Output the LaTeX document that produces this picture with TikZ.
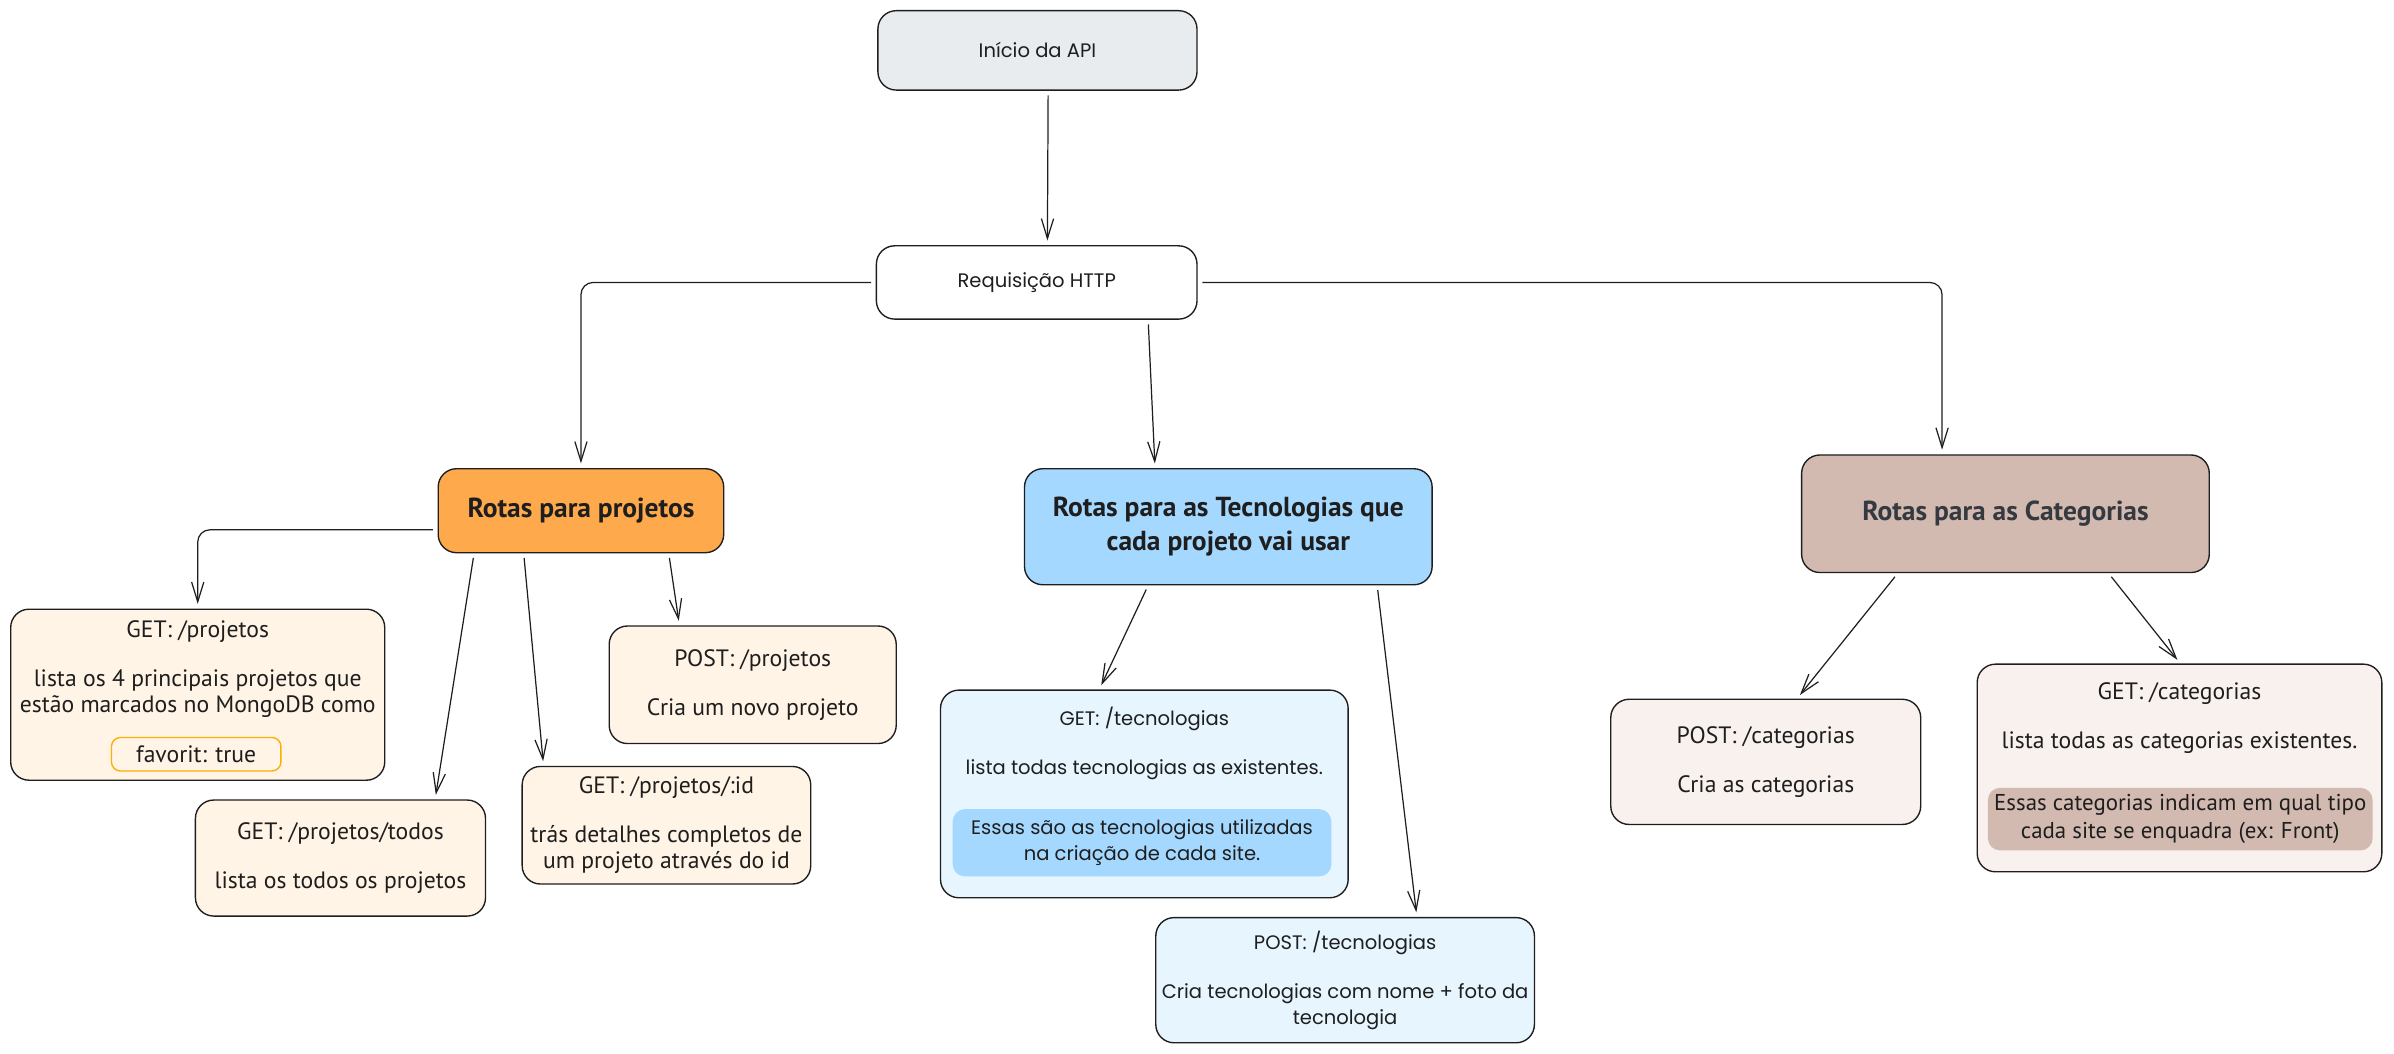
\documentclass[tikz,border=0pt]{standalone}
\usepackage{fontspec}
\setmainfont{PT Sans}
\newfontfamily\fontetec{Poppins}
\usetikzlibrary{arrows.meta,positioning}

\definecolor{tinta}{HTML}{1E1E1E}
\definecolor{cinzaclaro}{HTML}{E9ECEF}
\definecolor{laranja}{HTML}{FFA94D}
\definecolor{laranjaclaro}{HTML}{FFF4E6}
\definecolor{amarelo}{HTML}{FAB005}
\definecolor{azul}{HTML}{A5D8FF}
\definecolor{azulclaro}{HTML}{E7F5FF}
\definecolor{marrom}{HTML}{D2BAB0}
\definecolor{marromclaro}{HTML}{F8F1EE}
\definecolor{ardosia}{HTML}{343A40}

\tikzset{
  caixa/.style={draw=tinta, line width=0.9pt, rounded corners=12pt, align=center, inner sep=0pt, text=tinta, font=\fontsize{15.5}{17}\selectfont},
  caixatec/.style={caixa, font=\fontetec\fontsize{12.8}{17}\selectfont},
  titulo/.style={caixa, font=\fontsize{18}{22}\selectfont\bfseries},
  texto/.style={align=center, inner sep=0pt, text=tinta, font=\fontsize{15.5}{17}\selectfont},
  textotec/.style={texto, font=\fontetec\fontsize{12.8}{17}\selectfont},
  destaque/.style={draw=none, rounded corners=8pt, align=center, inner sep=0pt, text=tinta},
  seta/.style={draw=tinta, line width=0.8pt, -{Straight Barb[length=13pt,width=8pt]}, shorten <=3pt, shorten >=3pt}
}

\begin{document}
\begin{tikzpicture}[x=1pt, y=-1pt]
\useasboundingbox (0,0) rectangle (1568,690);

\node[caixatec, fill=cinzaclaro, minimum width=209pt, minimum height=52pt] (inicio) at (679.5,33) {Início da API};
\node[caixatec, fill=white, minimum width=210pt, minimum height=48pt] (req) at (679,185) {Requisição HTTP};

\node[titulo, fill=laranja, minimum width=187pt, minimum height=55pt] (rprojetos) at (380.5,334.5) {Rotas para projetos};
\node[titulo, fill=azul, minimum width=267pt, minimum height=76pt] (rtecno) at (804.5,345) {Rotas para as Tecnologias que\\cada projeto vai usar};
\node[titulo, fill=marrom, text=ardosia, minimum width=267pt, minimum height=77pt] (rcateg) at (1313.5,336.5) {Rotas para as Categorias};

\node[caixa, fill=laranjaclaro, minimum width=245pt, minimum height=112pt] (getproj) at (129.5,455) {};
\node[texto] (getprojtxt) at (129.5,438) {GET: /projetos\\[15pt]lista os 4 principais projetos que\\estão marcados no MongoDB como};
\node[caixa, draw=amarelo, fill=laranjaclaro, rounded corners=6pt, minimum width=111pt, minimum height=22pt] (favorit) at (128.5,494) {favorit: true};
\node[caixa, fill=laranjaclaro, minimum width=190pt, minimum height=76pt] (gettodos) at (223,562) {GET: /projetos/todos\\[15pt]lista os todos os projetos};
\node[caixa, fill=laranjaclaro, minimum width=189pt, minimum height=77pt] (getid) at (436.5,540.5) {GET: /projetos/:id\\[15pt]trás detalhes completos de\\um projeto através do id};
\node[caixa, fill=laranjaclaro, minimum width=188pt, minimum height=77pt] (postproj) at (493,448.5) {POST: /projetos\\[15pt]Cria um novo projeto};

\node[caixatec, fill=azulclaro, minimum width=267pt, minimum height=136pt] (gettec) at (749.5,520) {};
\node[textotec] (gettectxt) at (749.5,487) {GET: /tecnologias\\[15pt]lista todas tecnologias as existentes.};
\node[destaque, fill=azul, font=\fontetec\fontsize{12.8}{17}\selectfont, minimum width=248pt, minimum height=44pt] (gettecobs) at (748,552) {Essas são as tecnologias utilizadas\\na criação de cada site.};
\node[caixatec, fill=azulclaro, minimum width=248pt, minimum height=82pt] (posttec) at (881,642) {POST: /tecnologias\\[15pt]Cria tecnologias com nome + foto da\\tecnologia};

\node[caixa, fill=marromclaro, minimum width=203pt, minimum height=82pt] (postcat) at (1156.5,499) {POST: /categorias\\[15pt]Cria as categorias};
\node[caixa, fill=marromclaro, minimum width=265pt, minimum height=136pt] (getcat) at (1427.5,503) {};
\node[texto] (getcattxt) at (1427.5,470.5) {GET: /categorias\\[15pt]lista todas as categorias existentes.};
\node[destaque, fill=marrom, font=\fontsize{15}{18}\selectfont, minimum width=252pt, minimum height=41pt] (getcatobs) at (1428,536.5) {Essas categorias indicam em qual tipo\\cada site se enquadra (ex: Front)};

\draw[seta] ([xshift=7pt]inicio.south) -- ([xshift=7pt]req.north);
\draw[seta, rounded corners=8pt] (req.west) -| (rprojetos.north);
\draw[seta] ([xshift=73pt]req.south) -- ([xshift=-48pt]rtecno.north);
\draw[seta, rounded corners=8pt] (req.east) -| ([xshift=-41.5pt]rcateg.north);

\draw[seta, rounded corners=8pt] ([yshift=-12.5pt]rprojetos.west) -| (getproj.north);
\draw[seta] ([xshift=-70pt]rprojetos.south) -- ([xshift=62pt]gettodos.north);
\draw[seta] ([xshift=-37.5pt]rprojetos.south) -- ([xshift=-80.5pt]getid.north);
\draw[seta] ([xshift=57.5pt]rprojetos.south) -- ([xshift=-48pt]postproj.north);

\draw[seta] ([xshift=-52.5pt]rtecno.south) -- ([xshift=-29.5pt]gettec.north);
\draw[seta] ([xshift=97.5pt]rtecno.south) -- ([xshift=47pt]posttec.north);

\draw[seta] ([xshift=-70.5pt]rcateg.south) -- ([xshift=20.5pt]postcat.north);
\draw[seta] ([xshift=67.5pt]rcateg.south) -- ([xshift=0.5pt]getcat.north);
\end{tikzpicture}
\end{document}
